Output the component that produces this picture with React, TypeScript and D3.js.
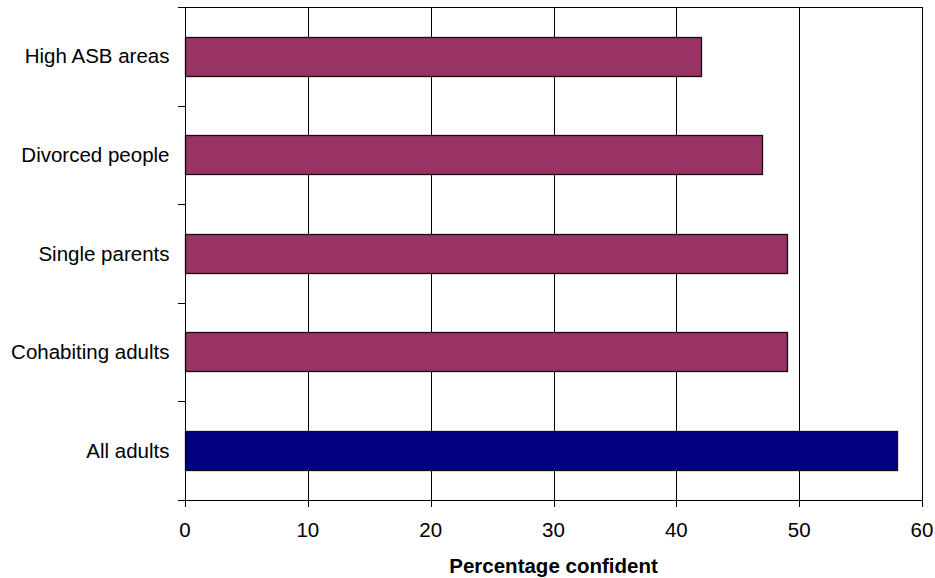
import React from "react";
import * as d3 from "d3";

const categories = ["High ASB areas", "Divorced people", "Single parents", "Cohabiting adults", "All adults"];
const values = [42, 47, 49, 49, 58];
const barColors = ["#993366", "#993366", "#993366", "#993366", "#000080"];
const xTicks = [0, 10, 20, 30, 40, 50, 60];
const xTitle = "Percentage confident";

const W = 935;
const H = 578;
const left = 185;
const right = 922;
const top = 7;
const bottom = 500;

export default function App() {
  const x = d3.scaleLinear().domain([0, 60]).range([left, right]);
  const y = d3.scaleBand<string>().domain(categories).range([top, bottom]).paddingInner(0.6).paddingOuter(0.3);
  const step = y.step();
  const boundaries = d3.range(categories.length + 1).map((i) => top + i * (bottom - top) / categories.length);
  const font = "Arial, 'Liberation Sans', Helvetica, sans-serif";
  const c = (v: number) => Math.round(v) + 0.5;

  return (
    <svg width={W} height={H} style={{ position: "absolute", left: 0, top: 0, background: "#fff" }}>
      <rect x={0} y={0} width={W} height={H} fill="#fff" />
      {/* vertical gridlines */}
      {xTicks.map((t) => (
        <line key={"g" + t} x1={c(x(t))} x2={c(x(t))} y1={top} y2={bottom + 7} stroke="#000" strokeWidth={1} />
      ))}
      {/* top border */}
      <line x1={left - 7} x2={c(x(60))} y1={c(top)} y2={c(top)} stroke="#000" strokeWidth={1} />
      {/* bars */}
      {categories.map((cat, i) => (
        <rect
          key={cat}
          x={c(x(0))}
          y={c(y(cat)!)}
          width={Math.round(x(values[i]) - x(0))}
          height={Math.round(y.bandwidth())}
          fill={barColors[i]}
          stroke="#1a0a10"
          strokeWidth={1.3}
        />
      ))}
      {/* y axis */}
      <line x1={c(left)} x2={c(left)} y1={top} y2={bottom} stroke="#000" strokeWidth={1} />
      {boundaries.map((b, i) => (
        <line key={"yt" + i} x1={left - 7} x2={left} y1={c(b)} y2={c(b)} stroke="#000" strokeWidth={1} />
      ))}
      {/* x axis */}
      <line x1={left - 7} x2={c(x(60))} y1={c(bottom)} y2={c(bottom)} stroke="#000" strokeWidth={1} />
      {/* category labels */}
      {categories.map((cat) => (
        <text
          key={"l" + cat}
          x={169.5}
          y={y(cat)! + y.bandwidth() / 2}
          dy="0.35em"
          textAnchor="end"
          fontFamily={font}
          fontSize={20.5}
          fill="#000"
        >
          {cat}
        </text>
      ))}
      {/* x tick labels */}
      {xTicks.map((t) => (
        <text key={"xl" + t} x={x(t)} y={537} textAnchor="middle" fontFamily={font} fontSize={20.5} fill="#000">
          {t}
        </text>
      ))}
      <text x={(449 + 658) / 2} y={573} textAnchor="middle" fontFamily={font} fontSize={20.5} fontWeight="bold" fill="#000">
        {xTitle}
      </text>
    </svg>
  );
}
